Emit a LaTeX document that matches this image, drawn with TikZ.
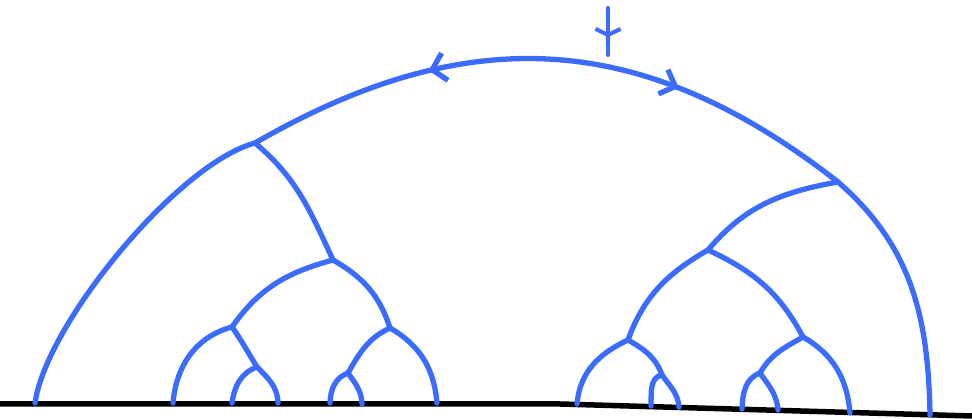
\documentclass[tikz,border=0pt]{standalone}
\usepackage{tikz}
\usetikzlibrary{arrows.meta, decorations.markings}
\definecolor{penblue}{HTML}{3C6CFF}

\begin{document}
\begin{tikzpicture}[x=1pt, y=1pt,
    br/.style={penblue, line width=5.3pt, line cap=round},
    gd/.style={black, line width=5.5pt, line cap=round},
    rootedge/.style={br, postaction={decorate}, decoration={markings,
        mark=at position 0.3 with {\arrowreversed{Straight Barb[length=13pt, width=28pt]}},
        mark=at position 0.705 with {\arrow{Straight Barb[length=13pt, width=26pt]}}}},
    tick/.style={br, line width=4pt, postaction={decorate}, decoration={markings,
        mark=at position 0.62 with {\arrow{Straight Barb[length=6pt, width=25pt]}}}}]
  \useasboundingbox (0,0) rectangle (972,419);
  % ground
  \coordinate (gl) at (0,15);
  \coordinate (gm) at (560,15);
  \coordinate (gr) at (972,3);
  \draw[gd] (gl) -- (gm) -- (gr);
  % inner vertices
  \coordinate (A) at (255,276);
  \coordinate (B) at (838,237);
  \coordinate (C) at (333,159);
  \coordinate (E) at (232,92);
  \coordinate (F) at (390,91);
  \coordinate (G) at (257,52);
  \coordinate (H) at (348,46);
  \coordinate (D) at (708,169);
  \coordinate (I) at (628,79);
  \coordinate (J) at (803,82);
  \coordinate (K) at (662,44);
  \coordinate (L) at (760,46);
  % leaves
  \coordinate (leafA) at (35,16);
  \coordinate (leafE) at (173,16);
  \coordinate (leafGa) at (232,16);
  \coordinate (leafGb) at (278,16);
  \coordinate (leafHa) at (330,16);
  \coordinate (leafHb) at (362,15);
  \coordinate (leafF) at (437,16);
  \coordinate (leafI) at (577,15);
  \coordinate (leafKa) at (651,13);
  \coordinate (leafKb) at (679,12);
  \coordinate (leafLa) at (742,10);
  \coordinate (leafLb) at (778,9);
  \coordinate (leafJ) at (850,6);
  \coordinate (leafB) at (930,4);
  % root mark
  \coordinate (mtop) at (608,411);
  \coordinate (mbot) at (608,364);
  \draw[tick] (mtop) -- (mbot);
  % root edge
  \draw[rootedge] (A) to[out=30, in=142, looseness=1.08] (B);
  % left subtree
  \draw[br] (A) to[out=195, in=82, looseness=0.6] (leafA);
  \draw[br] (A) to[out=-40, in=115] (C);
  \draw[br] (C) to[out=195, in=55] (E);
  \draw[br] (C) to[out=-30, in=108] (F);
  \draw[br] (E) to[out=195, in=85] (leafE);
  \draw[br] (E) to[out=-55, in=122] (G);
  \draw[br] (G) to[out=200, in=82] (leafGa);
  \draw[br] (G) to[out=-45, in=92] (leafGb);
  \draw[br] (F) to[out=205, in=60] (H);
  \draw[br] (F) to[out=-30, in=95] (leafF);
  \draw[br] (H) to[out=200, in=88] (leafHa);
  \draw[br] (H) to[out=-55, in=92] (leafHb);
  % right subtree
  \draw[br] (B) to[out=-41, in=91] (leafB);
  \draw[br] (B) to[out=190, in=50] (D);
  \draw[br] (D) to[out=210, in=70] (I);
  \draw[br] (D) to[out=-25, in=118] (J);
  \draw[br] (I) to[out=205, in=85] (leafI);
  \draw[br] (I) to[out=-30, in=110] (K);
  \draw[br] (K) to[out=190, in=88] (leafKa);
  \draw[br] (K) to[out=-55, in=95] (leafKb);
  \draw[br] (J) to[out=210, in=60] (L);
  \draw[br] (J) to[out=-30, in=95] (leafJ);
  \draw[br] (L) to[out=200, in=88] (leafLa);
  \draw[br] (L) to[out=-55, in=95] (leafLb);
\end{tikzpicture}
\end{document}
